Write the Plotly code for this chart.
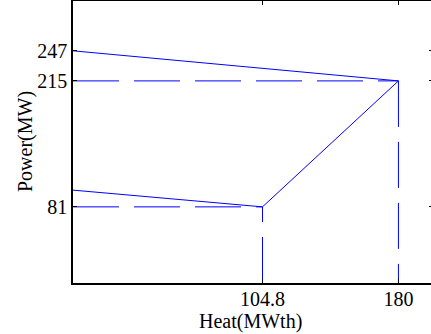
import plotly.graph_objects as go

# Operating region corner points (A, B, C, D)
heat = [0, 180, 104.8, 0]          # MWth
power = [247, 215, 81, 98.8]       # MW

x_ticks = [104.8, 180]
x_tick_text = ["104.8", "180"]
y_ticks = [81, 215, 247]
y_tick_text = ["81", "215", "247"]

x_title = "Heat(MWth)"
y_title = "Power(MW)"

BLUE = "#0000ff"
DASH = "46px,15px"
FONT = "Liberation Serif, Times New Roman, serif"

fig = go.Figure()

# Solid boundary A -> B -> C -> D
fig.add_trace(go.Scatter(x=heat, y=power, mode="lines",
                         line=dict(color=BLUE, width=1), showlegend=False))

# Dashed guide lines for B and C
hB, pB = heat[1], power[1]
hC, pC = heat[2], power[2]
guides = [
    ([0, hB], [pB, pB]),     # horizontal at B power
    ([0, hC], [pC, pC]),     # horizontal at C power
    ([hB, hB], [pB, 0]),     # vertical from B down
    ([hC, hC], [0, pC]),     # vertical up to C
]
for gx, gy in guides:
    fig.add_trace(go.Scatter(x=gx, y=gy, mode="lines",
                             line=dict(color=BLUE, width=1, dash=DASH),
                             showlegend=False))

# empty trace for right-side tick axis
fig.add_trace(go.Scatter(x=[], y=[], yaxis="y2", showlegend=False))

axis_font = dict(family=FONT, size=20, color="black")

fig.update_layout(
    width=431, height=334,
    margin=dict(l=73, r=0, t=1, b=51),
    paper_bgcolor="white", plot_bgcolor="white",
    font=axis_font,
    xaxis=dict(range=[0, 198], showgrid=False, zeroline=False,
               showline=True, linecolor="black", linewidth=1.5,
               mirror="ticks", ticks="inside", ticklen=4, tickwidth=1,
               tickcolor="black", ticklabelstandoff=-3,
               tickvals=x_ticks, ticktext=x_tick_text, tickfont=axis_font),
    yaxis=dict(range=[0, 300], showgrid=False, zeroline=False,
               showline=True, linecolor="black", linewidth=1.5,
               mirror=False, ticks="inside", ticklen=4, tickwidth=1,
               tickcolor="black",
               tickvals=y_ticks, ticktext=y_tick_text, tickfont=axis_font),
    yaxis2=dict(range=[0, 300], overlaying="y", side="right",
                showgrid=False, zeroline=False, showline=False,
                ticks="inside", ticklen=2, tickwidth=1, tickcolor="black",
                tickvals=y_ticks, showticklabels=False),
    annotations=[
        dict(text=x_title, xref="paper", yref="paper", x=0.5, y=0,
             xshift=-1.5, yshift=-38, xanchor="center", yanchor="middle",
             showarrow=False, font=axis_font),
        dict(text=y_title, xref="paper", yref="paper", x=0, y=0.5,
             xshift=-48, xanchor="center", yanchor="middle", textangle=-90,
             showarrow=False, font=axis_font),
    ],
)

fig.write_html("out.html")
